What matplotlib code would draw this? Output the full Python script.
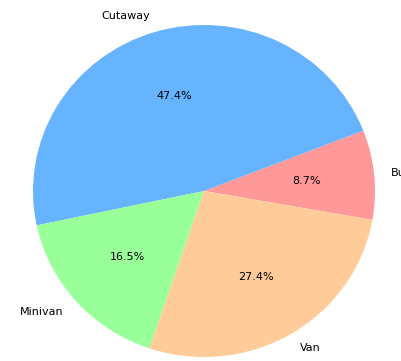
import matplotlib.pyplot as plt

labels = ['Bus', 'Cutaway', 'Minivan', 'Van']
shares = [8.7, 47.4, 16.5, 27.4]
colors = ['#ff9999', '#66b3ff', '#99ff99', '#ffcc99']

W, H = 402, 361
fig = plt.figure(figsize=(W / 100, H / 100), dpi=100)

# pie spans x 33..375 and y 25..357 px in the reference (image is cropped)
left, right, top, bottom = 33, 375, 25, 357
ax = fig.add_axes([left / W, (H - bottom) / H, (right - left) / W, (bottom - top) / H])

ax.pie(shares, labels=labels, colors=colors, autopct='%1.1f%%',
       startangle=-10, textprops={'fontsize': 8})
ax.set_aspect('auto')
ax.set_xlim(-1, 1)
ax.set_ylim(-1, 1)

fig.savefig('out.png', dpi=100)
